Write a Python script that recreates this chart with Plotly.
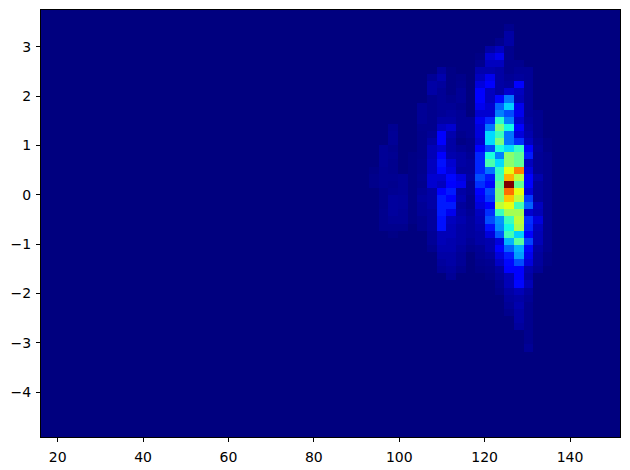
import numpy as np
import plotly.graph_objects as go

N_BINS = 60
x_low, x_high = 16.1, 151.7
y_low, y_high = -4.91, 3.75

x_tick_values = [20, 40, 60, 80, 100, 120, 140]
y_tick_values = [-4, -3, -2, -1, 0, 1, 2, 3]

# Bin heights per column (percent of peak): column index -> (first row from the top, values)
col_34 = (22, [0.6, 1, 1])
col_35 = (19, [2, 2, 2, 1.6, 1.6, 1.6, 1, 1, 1, 1.3, 1.3, 1.3])
col_36 = (16, [1.6, 2, 2, 1.3, 1.6, 1.3, 1.3, 1.6, 1.3, 1.6, 2.6, 2.6, 2.6, 2, 1.3, 0.6])
col_37 = (23, [2, 2, 2, 2.3, 2.3, 2, 2, 1.3])
col_38 = (20, [0.6, 0.6, 0.6, 0.6, 0.6, 0.6, 0.6, 0.6, 0.6, 0.6])
col_39 = (13, [2, 2, 2, 1.3, 1, 1, 1, 1, 1.3, 1.3, 1.6, 1.3, 2, 2.6, 2, 2, 1.3, 1.3])
col_40 = (9, [2, 3.3, 3.3, 1.3, 1.3, 1.3, 1.3, 1.3, 2, 3.3, 4.8, 4.8, 5.5, 5.5, 7, 7, 3.3, 3.3, 3.3, 2.6, 2.6, 2.6, 2, 2, 1.3])
col_41 = (8, [2.6, 4, 2.6, 2, 2, 2, 2, 3.3, 5.5, 11, 11, 7, 11, 14, 13, 7, 5.5, 11, 15, 15, 15, 14, 14, 4.8, 4.8, 4, 3.3, 2.6, 2])
col_42 = (8, [0.6, 0.6, 0.6, 0.6, 1.3, 2, 2.6, 3.3, 7, 4, 3.3, 3.3, 4, 7, 8, 13, 11, 15, 11, 15, 9.5, 5.5, 4.8, 4.8, 4, 4, 3.3, 3.3, 2.6, 2])
col_43 = (9, [1, 1.3, 2, 2, 1.3, 2, 2, 2, 1.3, 0.6, 2, 3.3, 3.3, 2.6, 8, 9.5, 3.3, 4, 2.6, 3.3, 4, 3.3, 3.3, 3.3, 2.6, 2, 2, 1.3])
col_44 = (15, [2, 2, 2, 1.3, 1.3, 2, 2.6, 2.6, 3.3, 2, 2, 1.3, 1.3, 2, 2.6, 2.6, 2.6, 2, 1.3])
col_45 = (6, [0.6, 1.3, 4, 5.5, 8, 11, 11, 9.5, 7, 9.5, 8, 8, 7, 11, 16, 16, 16, 20, 17, 11, 9.5, 8, 5.5, 4.8, 4, 3.3, 3.3, 2, 1.6, 1.2, 0.8])
col_46 = (5, [3.3, 7, 5.5, 4, 9.5, 11, 5.5, 5.5, 7, 7, 16, 24, 34, 34, 20, 38, 44, 24, 15, 13, 20, 18, 11, 17, 20, 14, 8, 4, 4, 2.6, 1.6, 1.2, 0.8])
col_47 = (4, [1.3, 5.5, 9.5, 5.5, 3.3, 3.3, 3.3, 3.3, 13, 22, 25, 40, 50, 42, 50, 38, 25, 34, 41, 43, 47, 50, 50, 58, 42, 27, 26, 21, 8, 11, 8, 6, 3, 2.3, 1.5, 1])
col_48 = (2, [1.3, 3.3, 3.3, 1.3, 1.3, 1.3, 1.3, 2, 2.6, 7, 24, 33, 20, 25, 37, 24, 24, 34, 52, 52, 63, 72, 100, 79, 70, 63, 55, 42, 37, 43, 30, 22, 15, 13, 11, 4.8, 4.8, 3.3, 2.6, 2, 1.3])
col_49 = (7, [1.3, 2, 2.6, 11, 5.5, 4.8, 9.5, 9.5, 7, 11, 8, 17, 41, 47, 47, 77, 58, 47, 63, 58, 43, 55, 58, 56, 33, 46, 30, 28, 20, 11, 11, 13, 4.8, 3.3, 4, 3.3, 3.3, 2.6])
col_50 = (8, [2, 2, 2, 2, 2, 2, 2, 2.6, 3.3, 4, 5.5, 11, 15, 5.5, 8, 11, 11, 8, 18, 22, 7, 17, 16, 11, 19, 13, 9.5, 8, 4, 3.3, 4.8, 2.6, 2, 1.3, 1.3, 1.3, 1.3, 1.3, 1.3, 2])
col_51 = (14, [1.3, 1.3, 1.3, 1.3, 2, 2.6, 2, 2, 2, 4, 2.6, 2.6, 2.6, 5.5, 4.8, 8, 5.5, 4.8, 4.8, 3.3, 2.6, 2.6, 2])
col_52 = (18, [0.6, 0.6, 1.3, 1.3, 1.3, 1.3, 1.3, 1.3, 1.3, 1.3, 1.3, 1.3, 1.3, 1.3, 1.3, 1.3, 0.6, 0.6])

columns = {
    34: col_34, 35: col_35, 36: col_36, 37: col_37, 38: col_38, 39: col_39,
    40: col_40, 41: col_41, 42: col_42, 43: col_43, 44: col_44, 45: col_45,
    46: col_46, 47: col_47, 48: col_48, 49: col_49, 50: col_50, 51: col_51,
    52: col_52,
}

z = np.zeros((N_BINS, N_BINS))
for col, (first_row, values) in columns.items():
    for offset, value in enumerate(values):
        z[first_row + offset, col] = value
z = z[::-1]  # rows bottom-up for the y axis

x_edges = np.linspace(x_low, x_high, N_BINS + 1)
y_edges = np.linspace(y_low, y_high, N_BINS + 1)

jet = [
    [0.0, "rgb(0,0,127)"],
    [0.11, "rgb(0,0,255)"],
    [0.125, "rgb(0,0,255)"],
    [0.34, "rgb(0,219,255)"],
    [0.35, "rgb(0,229,247)"],
    [0.375, "rgb(20,255,226)"],
    [0.64, "rgb(238,255,8)"],
    [0.65, "rgb(247,244,0)"],
    [0.66, "rgb(255,234,0)"],
    [0.89, "rgb(255,18,0)"],
    [0.91, "rgb(232,0,0)"],
    [1.0, "rgb(127,0,0)"],
]

fig = go.Figure(
    go.Heatmap(
        x=x_edges,
        y=y_edges,
        z=z,
        zmin=0,
        zmax=100,
        colorscale=jet,
        showscale=False,
        zsmooth=False,
        hoverinfo="skip",
    )
)

axis_style = dict(
    showgrid=False,
    zeroline=False,
    showline=True,
    mirror=True,
    linecolor="black",
    linewidth=1,
    ticks="outside",
    ticklen=4,
    tickwidth=1,
    tickcolor="black",
    tickfont=dict(family="DejaVu Sans", size=14, color="black"),
)

# The page adds an 8 px margin, so the figure is 8 px smaller than the window.
fig.update_layout(
    width=622,
    height=462,
    autosize=False,
    margin=dict(l=33, r=10, t=2, b=33, pad=0),
    paper_bgcolor="white",
    plot_bgcolor="#00007f",
    xaxis=dict(range=[x_low, x_high], tickvals=x_tick_values, ticklabelstandoff=3, **axis_style),
    yaxis=dict(range=[y_low, y_high], tickvals=y_tick_values, ticklabelstandoff=2, **axis_style),
)

fig.write_html("out.html")
